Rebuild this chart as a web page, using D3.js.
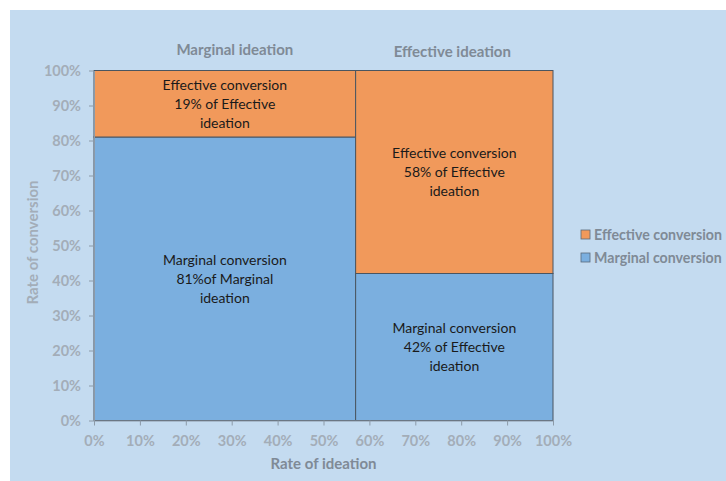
<!DOCTYPE html>
<html>
<head>
<meta charset="utf-8">
<script src="https://cdn.jsdelivr.net/npm/d3@7"></script>
<style>
  html, body { margin: 0; padding: 0; background: #ffffff; }
  svg { display: block; }
</style>
</head>
<body>
<svg id="chart" width="726" height="481"></svg>
<script>
// Column groups (x widths) and the conversion split within each
const ideationGroups = ["Marginal ideation", "Effective ideation"];
const ideationShare = [0.57, 0.43];
const conversionSeries = ["Marginal conversion", "Effective conversion"];
const marginalConversion = [0.81, 0.42];
const effectiveConversion = [0.19, 0.58];
const cellLabels = [
  ["Marginal conversion", "81%of Marginal", "ideation"],
  ["Effective conversion", "19% of Effective", "ideation"],
  ["Marginal conversion", "42% of Effective", "ideation"],
  ["Effective conversion", "58% of Effective", "ideation"]
];
const tickValues = [0, 0.1, 0.2, 0.3, 0.4, 0.5, 0.6, 0.7, 0.8, 0.9, 1.0];
const legendLabels = ["Effective conversion", "Marginal conversion"];

const colors = { "Marginal conversion": "#7bafdf", "Effective conversion": "#f1995b" };
const font = "Lato, 'Open Sans', sans-serif";

const svg = d3.select("#chart");
const W = 726, H = 481;

// Panel background
svg.append("rect").attr("x", 10).attr("y", 10).attr("width", W - 10).attr("height", H - 10)
  .attr("fill", "#c4dbf0");

const plot = { left: 94, right: 553, top: 70.5, bottom: 420.5 };
const x = d3.scaleLinear().domain([0, 1]).range([plot.left, plot.right]);
const y = d3.scaleLinear().domain([0, 1]).range([plot.bottom, plot.top]);

// Build the mosaic cells
let x0 = 0;
const cells = [];
ideationGroups.forEach((g, i) => {
  const w = ideationShare[i];
  cells.push({ group: g, series: "Marginal conversion", x0: x0, x1: x0 + w, y0: 0, y1: marginalConversion[i], label: cellLabels[i * 2] });
  cells.push({ group: g, series: "Effective conversion", x0: x0, x1: x0 + w, y0: marginalConversion[i], y1: marginalConversion[i] + effectiveConversion[i], label: cellLabels[i * 2 + 1] });
  x0 += w;
});

const g = svg.append("g");
g.selectAll("rect.cell").data(cells).join("rect")
  .attr("class", "cell")
  .attr("x", d => x(d.x0))
  .attr("y", d => y(d.y1))
  .attr("width", d => x(d.x1) - x(d.x0))
  .attr("height", d => y(d.y0) - y(d.y1))
  .attr("fill", d => colors[d.series])
  .attr("stroke", "#4a5560")
  .attr("stroke-width", 1);

// Cell labels
cells.forEach(d => {
  const cx = (x(d.x0) + x(d.x1)) / 2;
  const cy = (y(d.y0) + y(d.y1)) / 2;
  const t = g.append("text")
    .attr("x", cx).attr("y", cy)
    .attr("text-anchor", "middle")
    .attr("font-family", font).attr("font-size", 14)
    .attr("fill", "#1a1a1a");
  d.label.forEach((line, k) => {
    t.append("tspan").attr("x", cx).attr("y", cy + (k - 1) * 19 + 5).text(line);
  });
});

// Axes
const axisColor = "#8c9aa8";
const tickColor = "#a3adb8";
const fmt = d3.format(".0%");

const xAxis = svg.append("g").attr("transform", `translate(0,${plot.bottom})`)
  .call(d3.axisBottom(x).tickValues(tickValues).tickFormat(fmt).tickSize(5).tickSizeOuter(0));
const yAxis = svg.append("g").attr("transform", `translate(${plot.left},0)`)
  .call(d3.axisLeft(y).tickValues(tickValues).tickFormat(fmt).tickSize(5).tickSizeOuter(0));

[xAxis, yAxis].forEach(a => {
  a.select(".domain").attr("stroke", axisColor);
  a.selectAll(".tick line").attr("stroke", axisColor);
  a.selectAll(".tick text")
    .attr("font-family", font).attr("font-size", 14.5).attr("font-weight", 700)
    .attr("fill", tickColor);
});
xAxis.selectAll(".tick text").attr("y", 10).attr("dy", "1.05em");
yAxis.selectAll(".tick text").attr("x", -13).attr("dy", "0.35em");

// Axis titles
svg.append("text")
  .attr("x", (plot.left + plot.right) / 2).attr("y", 469)
  .attr("text-anchor", "middle")
  .attr("font-family", font).attr("font-size", 15).attr("font-weight", 700)
  .attr("fill", "#7f8a96")
  .text("Rate of ideation");
svg.append("text")
  .attr("transform", `translate(38,${(plot.top + plot.bottom) / 2 - 3}) rotate(-90)`)
  .attr("text-anchor", "middle")
  .attr("font-family", font).attr("font-size", 15).attr("font-weight", 700)
  .attr("fill", "#a3adb8")
  .text("Rate of conversion");

// Group titles above columns
let gx = 0;
const groupOffsets = [10, -2];
ideationGroups.forEach((name, i) => {
  const cx = x(gx + ideationShare[i] / 2) + groupOffsets[i];
  svg.append("text")
    .attr("x", cx).attr("y", 55 + i * 2)
    .attr("text-anchor", "middle")
    .attr("font-family", font).attr("font-size", 15).attr("font-weight", 700)
    .attr("fill", "#7f8a96")
    .text(name);
  gx += ideationShare[i];
});

// Legend
const legend = svg.append("g").attr("transform", "translate(581,230)");
legendLabels.forEach((name, i) => {
  const row = legend.append("g").attr("transform", `translate(0,${i * 23})`);
  row.append("rect").attr("x", 0).attr("y", 0).attr("width", 9).attr("height", 9)
    .attr("fill", colors[name]).attr("stroke", "#5a6a7a").attr("stroke-width", 0.8);
  row.append("text").attr("x", 13).attr("y", 10)
    .attr("font-family", font).attr("font-size", 14.2).attr("font-weight", 700)
    .attr("fill", "#7f8a96")
    .text(name);
});
</script>
</body>
</html>
